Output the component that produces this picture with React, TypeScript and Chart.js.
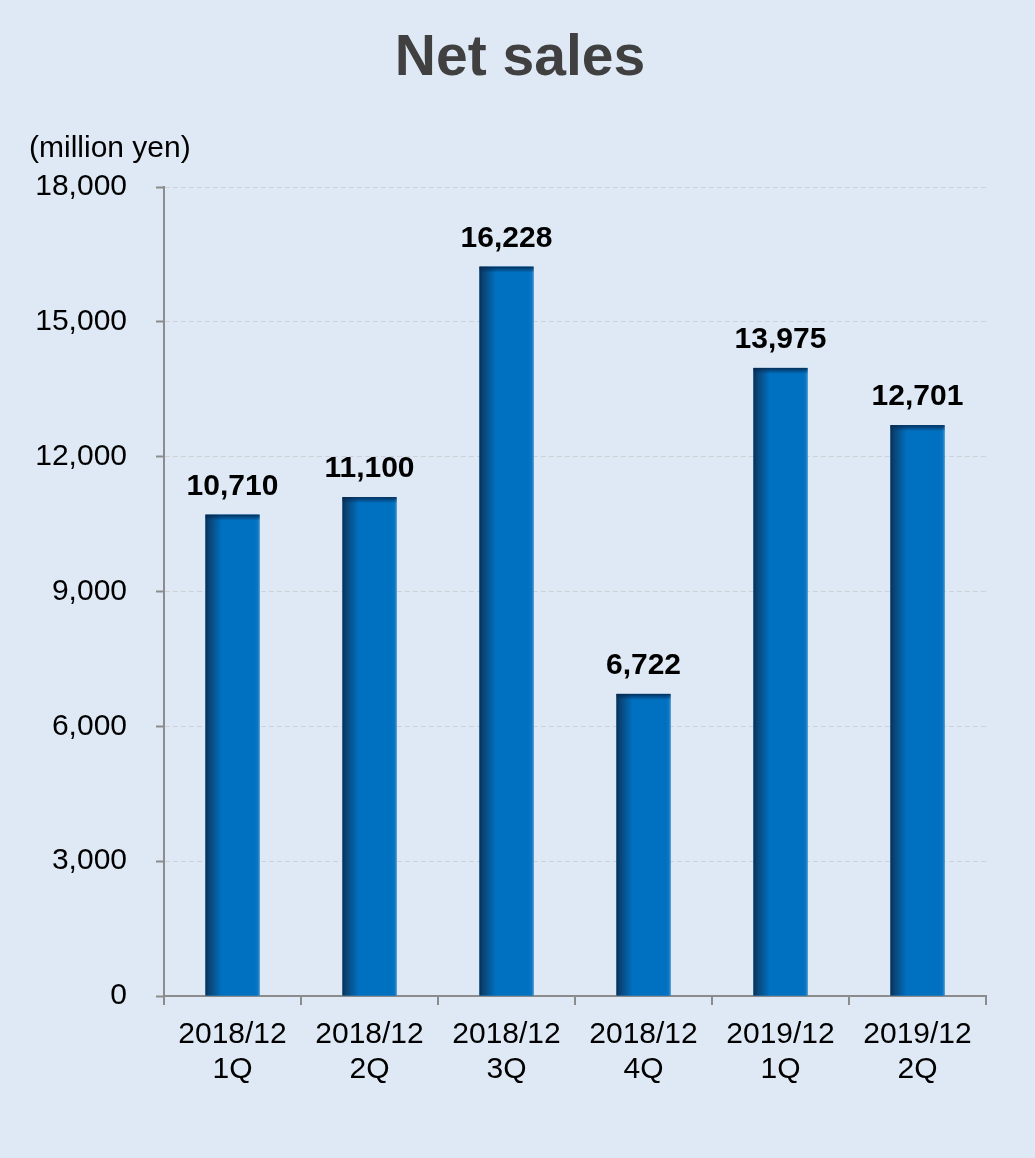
import React, { useEffect, useRef } from "react";
import { Chart, registerables } from "chart.js";

Chart.register(...registerables);

const categories: string[][] = [
  ["2018/12", "1Q"],
  ["2018/12", "2Q"],
  ["2018/12", "3Q"],
  ["2018/12", "4Q"],
  ["2019/12", "1Q"],
  ["2019/12", "2Q"],
];
const netSales: number[] = [10710, 11100, 16228, 6722, 13975, 12701];
const yTicks: number[] = [0, 3000, 6000, 9000, 12000, 15000, 18000];
const chartTitle = "Net sales";
const unitLabel = "(million yen)";

const FONT = "'Liberation Sans', Arial, sans-serif";
const W = 1035;
const H = 1158;

const barShadePlugin = {
  id: "barShade",
  afterDatasetsDraw(chart: any) {
    const ctx = chart.ctx;
    const meta = chart.getDatasetMeta(0);
    meta.data.forEach((el: any) => {
      const p = el.getProps(["x", "y", "base", "width"], true);
      const left = p.x - p.width / 2;
      const right = p.x + p.width / 2;
      const top = Math.min(p.y, p.base);
      const bottom = Math.max(p.y, p.base);
      const g = ctx.createLinearGradient(left, 0, right, 0);
      g.addColorStop(0, "#062f55");
      g.addColorStop(0.06, "#0a4272");
      g.addColorStop(0.3, "#0070c0");
      g.addColorStop(0.9, "#0070c0");
      g.addColorStop(0.96, "#0a74c2");
      g.addColorStop(1, "#3d93d3");
      ctx.save();
      ctx.fillStyle = g;
      ctx.fillRect(left, top, right - left, bottom - top);
      const v = ctx.createLinearGradient(0, top, 0, top + 6);
      v.addColorStop(0, "rgba(5,35,70,0.85)");
      v.addColorStop(0.5, "rgba(5,40,80,0.45)");
      v.addColorStop(1, "rgba(5,40,80,0)");
      ctx.fillStyle = v;
      ctx.fillRect(left, top, right - left, 6);
      ctx.restore();
    });
  },
};

const labelsPlugin = {
  id: "texts",
  afterDraw(chart: any) {
    const ctx = chart.ctx;
    ctx.save();
    ctx.fillStyle = "#404040";
    ctx.font = `bold 57px ${FONT}`;
    ctx.textAlign = "center";
    ctx.textBaseline = "alphabetic";
    ctx.fillText(chartTitle, 520, 75);
    ctx.fillStyle = "#000000";
    ctx.font = `30px ${FONT}`;
    ctx.textAlign = "left";
    ctx.fillText(unitLabel, 29, 157);
    const meta = chart.getDatasetMeta(0);
    ctx.font = `bold 30px ${FONT}`;
    ctx.textAlign = "center";
    meta.data.forEach((el: any, i: number) => {
      const p = el.getProps(["x", "y"], true);
      ctx.fillText(netSales[i].toLocaleString("en-US"), p.x, p.y - 20);
    });
    ctx.restore();
  },
};

export default function App() {
  const ref = useRef<HTMLCanvasElement | null>(null);
  useEffect(() => {
    if (!ref.current) return;
    const chart = new Chart(ref.current, {
      type: "bar",
      data: {
        labels: categories,
        datasets: [
          {
            data: netSales,
            backgroundColor: "#0070c0",
            borderWidth: 0,
            barPercentage: 0.395,
            categoryPercentage: 1,
          },
        ],
      },
      options: {
        responsive: false,
        animation: false,
        devicePixelRatio: 1,
        layout: { padding: { left: 0, right: 49, top: 187, bottom: 0 } },
        plugins: {
          legend: { display: false },
          title: { display: false },
          tooltip: { enabled: false },
        },
        scales: {
          x: {
            offset: true,
            afterFit: (s: any) => {
              s.height = 162;
            },
            grid: {
              display: true,
              drawOnChartArea: false,
              drawTicks: true,
              tickLength: 9,
              tickColor: "#8c8c8c",
              lineWidth: 2,
              offset: true,
            },
            border: { display: true, color: "#8c8c8c", width: 2 },
            ticks: {
              color: "#000000",
              font: { family: FONT, size: 30, lineHeight: 1.18 },
              padding: 12,
              maxRotation: 0,
              autoSkip: false,
            },
          },
          y: {
            min: 0,
            max: 18000,
            afterFit: (s: any) => {
              s.width = 164;
            },
            afterBuildTicks: (s: any) => {
              s.ticks = yTicks.map((v) => ({ value: v }));
            },
            grid: {
              color: "#cdd2d8",
              lineWidth: 1,
              drawTicks: true,
              tickLength: 8,
              tickColor: "#8c8c8c",
              tickWidth: 2,
              tickBorderDash: [],
            },
            border: { display: true, color: "#8c8c8c", width: 2, dash: [5, 3] },
            ticks: {
              color: "#000000",
              font: { family: FONT, size: 30 },
              padding: 29,
              callback: (v: any) => Number(v).toLocaleString("en-US"),
            },
          },
        },
      },
      plugins: [barShadePlugin, labelsPlugin],
    });
    return () => chart.destroy();
  }, []);
  return (
    <div
      style={{
        position: "fixed",
        left: 0,
        top: 0,
        width: W,
        height: H,
        background: "#dee9f5",
      }}
    >
      <canvas ref={ref} width={W} height={H} style={{ width: W, height: H, display: "block" }} />
    </div>
  );
}
